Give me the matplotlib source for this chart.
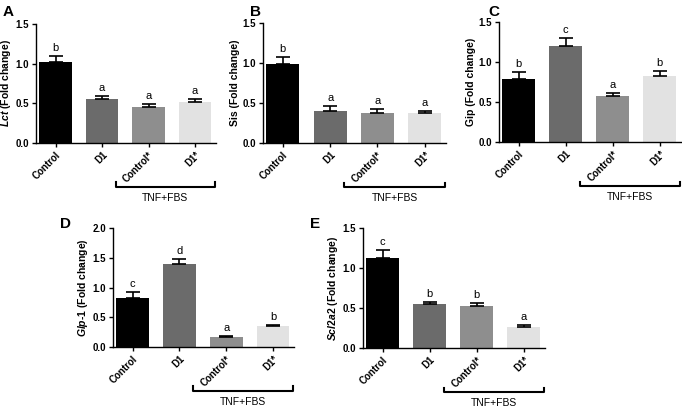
import matplotlib
matplotlib.use("Agg")
import matplotlib.pyplot as plt
import matplotlib.transforms as mtransforms

plt.rcParams['font.family'] = ['Liberation Sans', 'DejaVu Sans']
plt.rcParams['mathtext.fontset'] = 'custom'
plt.rcParams['mathtext.it'] = 'Liberation Sans:italic:bold'
plt.rcParams['mathtext.rm'] = 'Liberation Sans:bold'

groups = ['Control', 'D1', 'Control*', 'D1*']
bar_colors = ['#000000', '#6b6b6b', '#8e8e8e', '#e2e2e2']

lct = [1.02, 0.55, 0.46, 0.52]
lct_err = [0.08, 0.04, 0.03, 0.04]
lct_sig = ['b', 'a', 'a', 'a']

sis = [0.99, 0.40, 0.38, 0.37]
sis_err = [0.08, 0.06, 0.04, 0.03]
sis_sig = ['b', 'a', 'a', 'a']

gip = [0.79, 1.20, 0.58, 0.82]
gip_err = [0.08, 0.10, 0.03, 0.07]
gip_sig = ['b', 'c', 'a', 'b']

glp1 = [0.83, 1.39, 0.17, 0.35]
glp1_err = [0.10, 0.09, 0.02, 0.02]
glp1_sig = ['c', 'd', 'a', 'b']

scl2a2 = [1.13, 0.55, 0.53, 0.26]
scl2a2_err = [0.10, 0.03, 0.03, 0.03]
scl2a2_sig = ['c', 'b', 'b', 'a']

W, H = 682, 409
fig = plt.figure(figsize=(6.82, 4.09), dpi=100)


def px_axes(left, right, top, bottom):
    return fig.add_axes([left / W, 1 - bottom / H, (right - left) / W, (bottom - top) / H])


panels = [
    # letter, (l, r, t, b), letter pos, label, vals, err, sig, ymax
    ('A', (36, 216, 24, 143), (3, 12), r'$Lct$ (Fold change)', lct, lct_err, lct_sig, 1.5),
    ('B', (263, 446, 23, 143), (250, 12), 'Sis (Fold change)', sis, sis_err, sis_sig, 1.5),
    ('C', (499, 681, 22, 142), (488, 12), 'Gip (Fold change)', gip, gip_err, gip_sig, 1.5),
    ('D', (113, 294, 228, 347), (60, 224), r'$Glp$-1 (Fold change)', glp1, glp1_err, glp1_sig, 2.0),
    ('E', (363, 545, 228, 348), (310, 224), r'$Scl2a2$ (Fold change)', scl2a2, scl2a2_err, scl2a2_sig, 1.5),
]

for letter, box, lpos, ylab, vals, err, sig, ymax in panels:
    ax = px_axes(*box)
    x = range(len(groups))
    ax.bar(x, vals, width=0.7, color=bar_colors, zorder=2)
    ax.errorbar(x, vals, yerr=[[0] * len(vals), err], fmt='none', ecolor='black',
                elinewidth=1.2, capsize=5, capthick=1.2, zorder=3)
    for i, (v, e, s) in enumerate(zip(vals, err, sig)):
        ax.text(i, v + e + ymax * 0.025, s, ha='center', va='bottom', fontsize=8)
    ax.set_xlim(-0.42, 3.45)
    ax.set_ylim(0, ymax)
    ax.set_yticks([i * 0.5 for i in range(int(ymax / 0.5) + 1)])
    ax.set_yticklabels([f'{i * 0.5:.1f}' for i in range(int(ymax / 0.5) + 1)],
                       fontsize=7, fontweight='bold')
    ax.set_xticks(list(x))
    ax.set_xticklabels(groups, rotation=45, ha='right', rotation_mode='anchor',
                       fontsize=7, fontweight='bold')
    ax.tick_params(axis='both', direction='out', length=3, width=1, pad=2)
    ax.spines['top'].set_visible(False)
    ax.spines['right'].set_visible(False)
    ax.spines['left'].set_linewidth(1)
    ax.spines['bottom'].set_linewidth(1)
    ax.set_ylabel(ylab, fontsize=7.5, fontweight='bold', labelpad=2)

    # bracket under the TNF+FBS groups
    trans = mtransforms.blended_transform_factory(ax.transData, ax.transAxes)
    xl, xr = 1.3, 3.42
    yb, yt = -0.37, -0.33
    ax.plot([xl, xl, xr, xr], [yt, yb, yb, yt], color='black', lw=1.5,
            transform=trans, clip_on=False)
    ax.text((xl + xr) / 2, yb - 0.05, 'TNF+FBS', ha='center', va='top',
            fontsize=7.5, transform=trans)

    fig.text(lpos[0] / W, 1 - lpos[1] / H, letter, fontsize=11, fontweight='bold',
             ha='left', va='center')

fig.savefig('out.png', dpi=100)
